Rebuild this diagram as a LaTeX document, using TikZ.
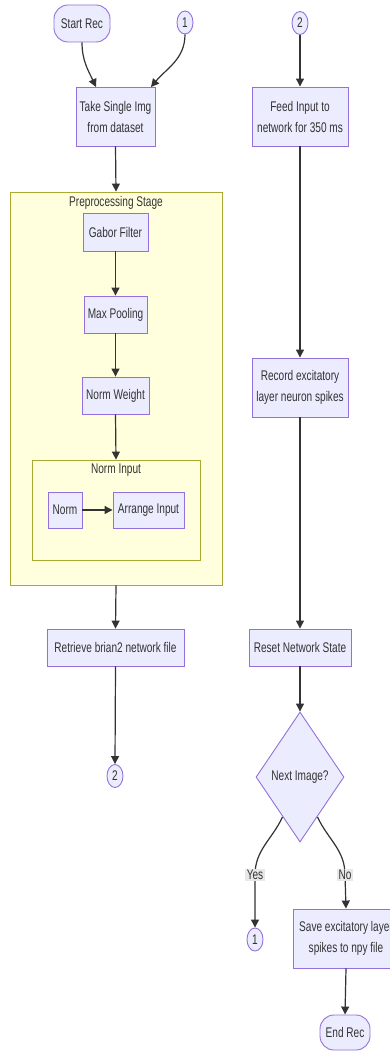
\documentclass[tikz,border=0pt]{standalone}
\usepackage{fontspec}
\setmainfont[FakeStretch=0.72]{Liberation Sans}
\usetikzlibrary{shapes.geometric,arrows.meta}
\definecolor{nfill}{HTML}{ECECFF}
\definecolor{nstroke}{HTML}{9370DB}
\definecolor{gfill}{HTML}{FFFFDE}
\definecolor{gstroke}{HTML}{AAAA33}
\definecolor{ink}{HTML}{333333}
\tikzset{
  x=1pt,y=1pt,
  every node/.style={font=\fontsize{14}{21}\selectfont, text=ink, align=center, inner sep=0pt},
  proc/.style={rectangle, draw=nstroke, fill=nfill, line width=0.9pt},
  stad/.style={rectangle, rounded corners=14pt, draw=nstroke, fill=nfill, line width=0.9pt},
  conn/.style={ellipse, draw=nstroke, fill=nfill, line width=0.9pt, minimum width=16pt, minimum height=23pt},
  dec/.style={diamond, draw=nstroke, fill=nfill, line width=0.9pt, minimum width=88pt, minimum height=130pt},
  grp/.style={rectangle, draw=gstroke, fill=gfill, line width=0.9pt},
  arr/.style={draw=ink, line width=1.2pt, -{Triangle[length=8pt,width=8pt]}},
  elab/.style={fill=black!9, inner sep=1.5pt}
}
\begin{document}
\begin{tikzpicture}
\useasboundingbox (0,0) rectangle (390,-1051);
\clip (0,0) rectangle (390,-1051);
% groups
\node[grp, minimum width=212pt, minimum height=393pt] (pre) at (116,-388.5) {};
\node[anchor=north] (pret) at (116,-196) {Preprocessing Stage};
\node[grp, minimum width=168pt, minimum height=100pt] (ni) at (116,-510) {};
\node[anchor=north] (nit) at (116,-464) {Norm Input};
% left column
\node[stad, minimum width=56pt, minimum height=37pt] (start) at (82,-23.5) {Start Rec};
\node[conn] (c1a) at (185,-22.5) {1};
\node[proc, minimum width=79pt, minimum height=59pt] (take) at (115.5,-116.5) {Take Single Img\\from dataset};
\node[proc, minimum width=65pt, minimum height=38pt] (gabor) at (115.5,-232) {Gabor Filter};
\node[proc, minimum width=63pt, minimum height=37pt] (maxp) at (115.5,-314.5) {Max Pooling};
\node[proc, minimum width=67pt, minimum height=37pt] (nw) at (115.5,-395.5) {Norm Weight};
\node[proc, minimum width=34pt, minimum height=36pt] (norm) at (65,-510) {Norm};
\node[proc, minimum width=71pt, minimum height=36pt] (arr) at (148.5,-510) {Arrange Input};
\node[proc, minimum width=137pt, minimum height=37pt] (ret) at (115.5,-647.5) {Retrieve brian2 network file};
\node[conn] (c2a) at (115,-776) {2};
% right column
\node[conn] (c2b) at (300,-23) {2};
\node[proc, minimum width=96pt, minimum height=59pt] (feed) at (300,-116.5) {Feed Input to\\network for 350 ms};
\node[proc, minimum width=96pt, minimum height=59pt] (rec) at (300,-387.5) {Record excitatory\\layer neuron spikes};
\node[proc, minimum width=102pt, minimum height=37pt] (reset) at (300,-647.5) {Reset Network State};
\node[dec] (next) at (300,-777) {Next Image?};
\node[conn] (c1b) at (255,-939.5) {1};
\node[proc, minimum width=106pt, minimum height=59pt] (save) at (346,-938.5) {Save excitatory layer\\spikes to npy file};
\node[stad, minimum width=50pt, minimum height=35pt] (end) at (345,-1032.5) {End Rec};
% edges
\draw[arr] (start.south) to[out=-90,in=115] (96,-87);
\draw[arr] (c1a.south) to[out=-90,in=50] (151,-87);
\draw[arr] (take.south) -- (pre.north);
\draw[arr] (gabor.south) -- (maxp.north);
\draw[arr] (maxp.south) -- (nw.north);
\draw[arr] (nw.south) -- (ni.north);
\draw[arr] (norm.east) -- (arr.west);
\draw[arr] (pre.south) -- (ret.north);
\draw[arr] (ret.south) -- (c2a.north);
\draw[arr] (c2b.south) -- (feed.north);
\draw[arr] (feed.south) -- (rec.north);
\draw[arr] (rec.south) -- (reset.north);
\draw[arr] (reset.south) -- (next.north);
\coordinate (yl) at (255,-875);
\coordinate (nl) at (345,-875);
\draw[arr] (282.5,-817) to[out=-115,in=90] (yl) -- (c1b.north);
\draw[arr] (317.5,-817) to[out=-65,in=90] (nl) -- (save.north);
\node[elab] (yes) at (yl) {Yes};
\node[elab] (no) at (nl) {No};
\draw[arr] (save.south) -- (end.north);
\end{tikzpicture}
\end{document}
